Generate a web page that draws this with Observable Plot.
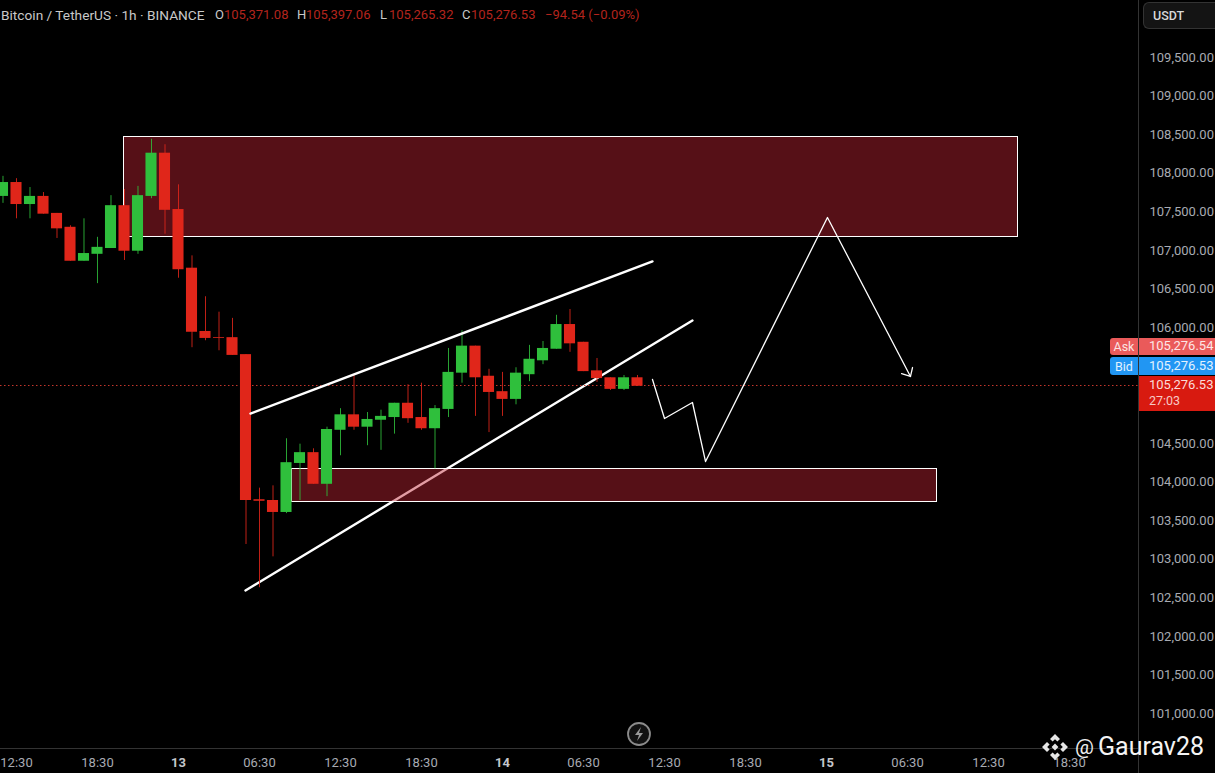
<!DOCTYPE html>
<html>
<head>
<meta charset="utf-8">
<script src="https://cdn.jsdelivr.net/npm/d3@7"></script>
<script src="https://cdn.jsdelivr.net/npm/@observablehq/plot@0.6"></script>
<style>
html,body{margin:0;padding:0;background:#000;overflow:hidden;width:1215px;height:773px}
#wrap{position:relative;width:1215px;height:773px;font-family:Roboto,sans-serif}
#chart svg{display:block}
.ov{position:absolute;white-space:nowrap}
.hd{top:7px;font-size:13px;line-height:16px;color:#c9c9c9}
.rd{color:#b3241d}
.pr{left:1149px;font-size:13px;color:#e8e8e8;line-height:18px}
</style>
</head>
<body>
<div id="wrap"><div id="chart"></div></div>
<script>
// Candles: hour offset from the "13" tick
const hours = d3.range(-13, 35);
const open  = [107700,107880,107595,107700,107480,107300,106860,106950,107025,107580,106990,107700,108260,107530,106770,105950,105870,105870,105650,103770,103760,103605,104240,104380,103970,104670,104870,104710,104800,104835,105020,104835,104690,104940,105410,105760,105370,105170,105070,105390,105570,105720,106040,105810,105440,105350,105200,105350];
const close = [107880,107595,107700,107470,107280,106860,106960,107040,107580,106990,107710,108260,107520,106750,105940,105860,105860,105640,103760,103750,103605,104250,104380,103970,104680,104870,104710,104810,104850,105020,104820,104690,104950,105420,105760,105350,105160,105070,105410,105590,105730,106040,105790,105430,105340,105200,105350,105240];
const high  = [107960,107930,107815,107750,107480,107320,107410,107170,107710,107790,107830,108440,108370,107850,106930,106400,106200,106120,105650,103920,103950,104560,104490,104430,104710,104950,105380,104900,104930,105020,105260,105280,104990,105730,105960,105760,105460,105420,105480,105770,105820,106160,106235,105810,105600,105350,105380,105380];
const low   = [107610,107410,107410,107470,107155,106860,106860,106570,107025,106870,106950,107670,107210,106640,105740,105830,105700,105640,103190,102630,103030,103590,103760,103970,103810,104340,104670,104470,104410,104620,104760,104670,104170,104835,105280,104850,104640,104850,105000,105300,105520,105720,105680,105430,105290,105185,105185,105240];

// Hand-drawn zones and lines
const zoneHours  = [[-4.07, 62.15], [8.44, 56.15]];
const zonePrices = [[107180, 108465], [103747, 104162]];
const upperHours = [5.33, 35.11],  upperPrices = [104887, 106857];
const lowerHours = [4.96, 38.07],  lowerPrices = [102594, 106092];
const pathHours  = [35.11, 36, 38.07, 39.04, 48.07, 54.22];
const pathPrices = [105328, 104822, 105030, 104265, 107427, 105367];
const headHours  = [53.56, 54.22, 54.37];
const headPrices = [105405, 105367, 105483];
const priceLine  = 105250;

// Axes
const priceTicks = [109500,109000,108500,108000,107500,107000,106500,106000,104500,104000,103500,103000,102500,102000,101500,101000];
const timeTicks  = [-12,-6,6,12,18,30,36,42,54,60,66];
const timeLabels = ["12:30","18:30","06:30","12:30","18:30","06:30","12:30","18:30","06:30","12:30","18:30"];
const dayTicks   = [0,24,48];
const dayLabels  = ["13","14","15"];

// Header and price badges
const symbol = "Bitcoin / TetherUS · 1h · BINANCE";
const ohlc = ["105,371.08","105,397.06","105,265.32","105,276.53"];
const change = "−94.54 (−0.09%)";
const ask = "105,276.54", bid = "105,276.53", last = "105,276.53", countdown = "27:03";

const candles = hours.map((h,i)=>({h,o:open[i],c:close[i],hi:high[i],lo:low[i]}));
const UP="#2fbf3c", DOWN="#e0261a";
const col = d => d.c>d.o ? UP : DOWN;
const pts = (xs,ys)=>xs.map((x,i)=>({x,y:ys[i]}));
const zones = zoneHours.map((z,i)=>({x1:z[0],x2:z[1],y1:zonePrices[i][0],y2:zonePrices[i][1]}));

const chart = Plot.plot({
  width:1215, height:773,
  marginLeft:0, marginRight:77, marginTop:0, marginBottom:25,
  style:{background:"#000",color:"#a8abb2",fontFamily:"Roboto,sans-serif",fontSize:"13px"},
  x:{type:"linear",domain:[-13.185,71.11]},
  y:{type:"linear",domain:[100546.7,110238.5]},
  marks:[
    Plot.frame({anchor:"bottom",stroke:"#333"}),
    Plot.frame({anchor:"right",stroke:"#333"}),
    Plot.line(pts(lowerHours,lowerPrices),{x:"x",y:"y",stroke:"#fff",strokeWidth:2.4}),
    Plot.rect(zones,{x1:"x1",x2:"x2",y1:"y1",y2:"y2",fill:"#bf2433",fillOpacity:0.45,stroke:"#fff",strokeWidth:1,shapeRendering:"crispEdges"}),
    Plot.ruleY([priceLine],{stroke:"#d0392e",strokeOpacity:0.95,strokeWidth:1,strokeDasharray:"1.5 2.5"}),
    Plot.ruleX(candles,{x:"h",y1:"lo",y2:"hi",stroke:col,strokeWidth:1,strokeOpacity:0.85}),
    Plot.rect(candles,{x1:d=>d.h-0.41,x2:d=>d.h+0.41,y1:"o",y2:"c",fill:col}),
    Plot.line(pts(upperHours,upperPrices),{x:"x",y:"y",stroke:"#fff",strokeWidth:2.4}),
    Plot.line(pts(pathHours,pathPrices),{x:"x",y:"y",stroke:"#fff",strokeWidth:1.3}),
    Plot.line(pts(headHours,headPrices),{x:"x",y:"y",stroke:"#fff",strokeWidth:1.3}),
    Plot.axisY({anchor:"right",ticks:priceTicks,tickSize:0,tickPadding:11,tickFormat:d3.format(",.2f"),label:null,fill:"#a8abb2"}),
    Plot.axisX({anchor:"bottom",ticks:timeTicks,tickSize:0,tickPadding:9,tickFormat:d=>timeLabels[timeTicks.indexOf(d)],label:null,fill:"#a8abb2"}),
    Plot.axisX({anchor:"bottom",ticks:dayTicks,tickSize:0,tickPadding:9,tickFormat:d=>dayLabels[dayTicks.indexOf(d)],label:null,fill:"#c4c6cb",fontWeight:"bold"})
  ]
});
document.getElementById("chart").append(chart);

const wrap=document.getElementById("wrap");
function add(html,style,cls){const e=document.createElement("div");e.className="ov "+(cls||"");e.style.cssText=style;e.innerHTML=html;wrap.append(e);return e;}
// header
add(symbol,"left:1px;font-size:13.7px","hd");
[["O",215],["H",297],["L",380],["C",462]].forEach(([k,x],i)=>{
  add(k,`left:${x}px`,"hd");
  add(ohlc[i],`left:${x+9}px`,"hd rd");
});
add(change,"left:545px","hd rd");
// right scale
add("","left:1138px;top:0;width:1px;height:773px;background:#333");
add("USDT","left:1143px;top:2px;width:72px;height:27px;box-sizing:border-box;border:1px solid #333;border-right:0;border-radius:6px 0 0 6px;background:#141414;color:#d8d8d8;font-weight:500;font-size:12.5px;line-height:26px;padding-left:9px");
add("Ask","left:1110px;top:338px;width:28px;height:17px;background:#ea5a5a;color:#fbe3e3;font-size:12.5px;line-height:18px;text-align:center;border-radius:3px 0 0 3px");
add("","left:1139px;top:338px;width:76px;height:17px;background:#ea5a5a");
add(ask,"top:337px;color:#fde6e6","pr");
add("Bid","left:1110px;top:357px;width:28px;height:18px;background:#2196f3;color:#e3f2fe;font-size:12.5px;line-height:19px;text-align:center;border-radius:3px 0 0 3px");
add("","left:1139px;top:357px;width:76px;height:18px;background:#2196f3");
add(bid,"top:357px;color:#e3f2fe","pr");
add("","left:1139px;top:376px;width:76px;height:35px;background:#d81a10");
add(last,"top:376px;color:#fbdcd9","pr");
add(countdown,"top:392px;color:#f7c9c5;font-size:12.5px","pr");
// lightning badge
add('<svg width="26" height="26" viewBox="0 0 26 26"><circle cx="13" cy="13" r="11" fill="#111" stroke="#8b8b8b" stroke-width="1.8"/><path d="M15 6 L9 14 H13 L11 20 L17 12 H13 Z" fill="#9a9a9a"/></svg>',"left:626px;top:721px");
// watermark
add('<svg width="28" height="28" viewBox="0 0 28 28" fill="#e6e6e6"><path d="M14 1l5 5-2.6 2.6L14 6.2l-2.4 2.4L9 6zM6 9l2.6 2.6L6.2 14l2.4 2.4L6 19l-5-5zM22 9l5 5-5 5-2.6-2.6 2.4-2.4-2.4-2.4zM14 10.6l3.4 3.4-3.4 3.4-3.4-3.4zM9 22l2.6-2.6 2.4 2.4 2.4-2.4L19 22l-5 5z"/></svg>',"left:1041px;top:733px");
add("@","left:1075px;top:733px;font-size:21px;line-height:28px;color:#eee;font-family:Roboto,sans-serif");
add("Gaurav28","left:1098px;top:732px;font-size:25px;line-height:30px;color:#f4f4f4;font-family:Roboto,sans-serif");
</script>
</body>
</html>
